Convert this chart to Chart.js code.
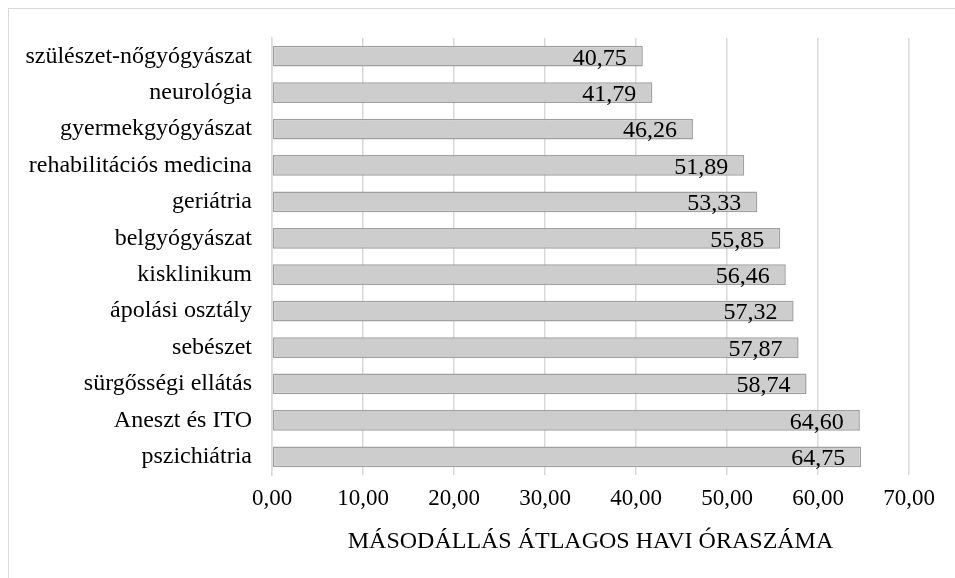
<!DOCTYPE html>
<html>
<head>
<meta charset="utf-8">
<script src="https://cdn.jsdelivr.net/npm/chart.js@4.4.0/dist/chart.umd.min.js"></script>
<style>
  body { margin: 0; background: #fff; }
  #frame { position: absolute; left: 8px; top: 8px; width: 960px; height: 590px; border: 1px solid #d9d9d9; }
  #wrap { position: absolute; left: 0; top: 0; width: 955px; height: 578px; }
</style>
</head>
<body>
<div id="frame"></div>
<div id="wrap"><canvas id="chart"></canvas></div>
<script>
const categories = [
  'szülészet-nőgyógyászat',
  'neurológia',
  'gyermekgyógyászat',
  'rehabilitációs medicina',
  'geriátria',
  'belgyógyászat',
  'kisklinikum',
  'ápolási osztály',
  'sebészet',
  'sürgősségi ellátás',
  'Aneszt és ITO',
  'pszichiátria',
];
const hours = [40.75, 41.79, 46.26, 51.89, 53.33, 55.85, 56.46, 57.32, 57.87, 58.74, 64.60, 64.75];
const axisTitle = 'MÁSODÁLLÁS ÁTLAGOS HAVI ÓRASZÁMA';

const FONT = '"Liberation Serif", "Times New Roman", serif';
const fmt = v => Number(v).toFixed(2).replace('.', ',');

// value labels at the inner end of each bar
const valueLabels = {
  id: 'valueLabels',
  afterDatasetsDraw(chart) {
    const ctx = chart.ctx;
    const meta = chart.getDatasetMeta(0);
    ctx.save();
    ctx.font = '24px ' + FONT;
    ctx.fillStyle = '#000';
    ctx.textAlign = 'right';
    ctx.textBaseline = 'middle';
    meta.data.forEach((bar, i) => {
      ctx.fillText(fmt(hours[i]), bar.x - 16, bar.y + 2);
    });
    ctx.restore();
  },
};

const ctx = document.getElementById('chart');
new Chart(ctx, {
  type: 'bar',
  data: {
    labels: categories,
    datasets: [
      {
        data: hours,
        backgroundColor: '#cdcdcd',
        borderColor: '#a0a0a0',
        borderWidth: 1.5,
        borderSkipped: false,
        categoryPercentage: 0.57,
        barPercentage: 1,
      },
    ],
  },
  options: {
    indexAxis: 'y',
    responsive: true,
    maintainAspectRatio: false,
    animation: false,
    layout: { padding: { top: 38, right: 46, left: 0, bottom: 0 } },
    plugins: {
      legend: { display: false },
      tooltip: { enabled: false },
    },
    scales: {
      x: {
        min: 0,
        max: 70,
        ticks: {
          stepSize: 10,
          callback: v => fmt(v),
          color: '#000',
          font: { family: FONT, size: 23 },
          padding: 10,
        },
        grid: { color: '#d9d9d9', lineWidth: 1.5, drawTicks: false },
        border: { display: false },
        title: {
          display: true,
          text: axisTitle,
          color: '#000',
          font: { family: FONT, size: 24 },
          padding: { top: 0, bottom: 22 },
        },
        afterFit: s => { s.height = 103; },
      },
      y: {
        ticks: {
          color: '#000',
          font: { family: FONT, size: 24 },
          padding: 20,
        },
        grid: { display: false, drawTicks: false },
        border: { display: true, color: '#d9d9d9', width: 1.5 },
        afterFit: s => { s.width = 272; },
      },
    },
  },
  plugins: [valueLabels],
});
</script>
</body>
</html>
